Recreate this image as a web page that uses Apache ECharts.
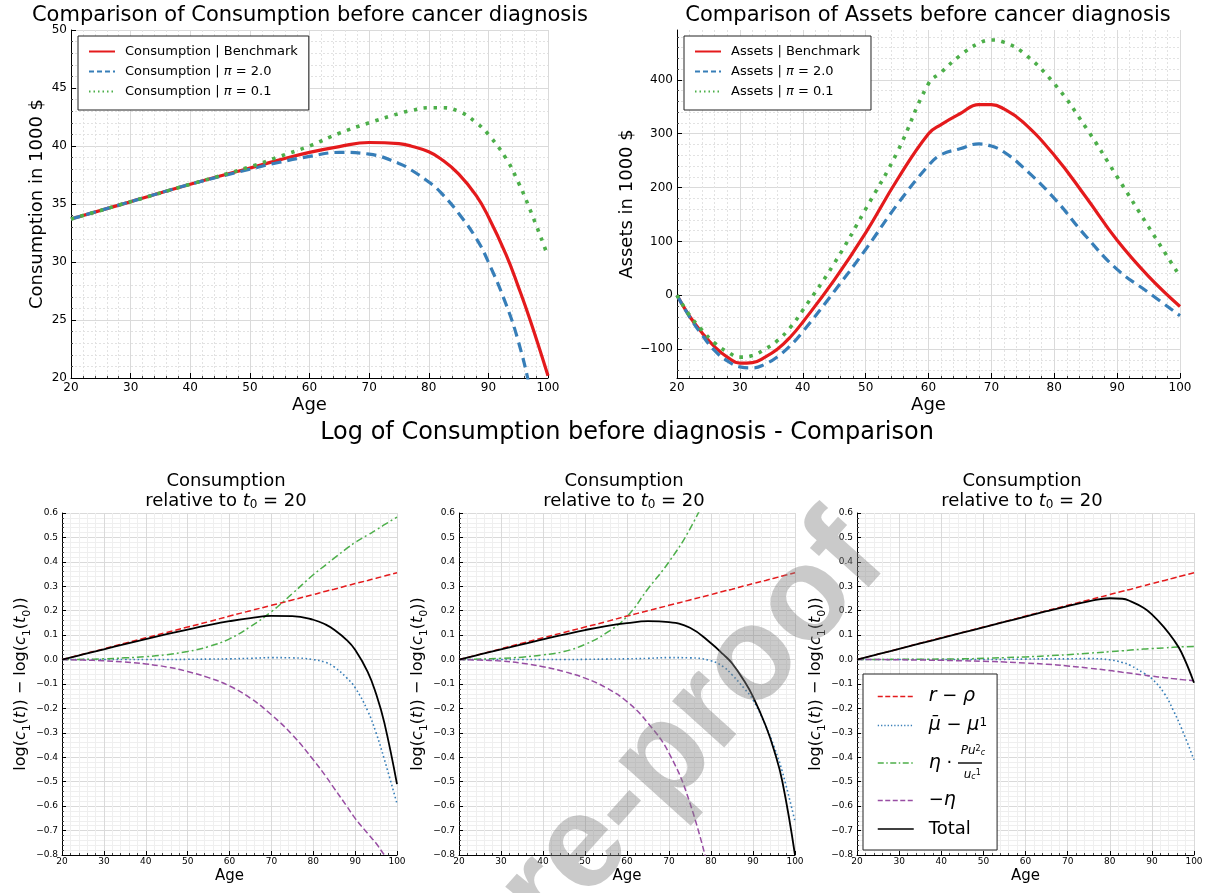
<!DOCTYPE html>
<html><head><meta charset="utf-8">
<script src="https://cdn.jsdelivr.net/npm/echarts@6/dist/echarts.min.js"></script>
<style>html,body{margin:0;padding:0;background:#fff}#c{width:1207px;height:893px}</style>
</head><body><div id="c"></div><script>
// ---------- DATA ----------
const AGES_C = [20,30,40,50,55,60,65,70,75,77,80,82,85,88,90,93,95,97,100];
const CONS_BENCH = [33.7,35.2,36.7,38.1,38.8,39.45,39.95,40.3,40.2,40.0,39.5,38.9,37.6,35.7,33.9,30.6,27.9,25.0,20.2];
const CONS_PI2   = [33.7,35.2,36.7,38.0,38.6,39.1,39.45,39.3,38.5,37.95,36.9,36.0,34.2,32.0,30.0,26.3,23.2,19.0,11.0];
const CONS_PI01  = [33.7,35.2,36.7,38.2,39.1,40.0,41.1,42.0,42.8,43.05,43.3,43.3,43.0,42.0,41.0,38.9,36.9,34.5,30.5];

const AGES_A = [20,22,24,26,28,30,32,34,36,38,40,45,50,55,60,62,65,68,70,72,75,80,85,90,95,100];
const ASSETS_BENCH = [0,-39,-70,-96,-115,-126,-125,-115,-100,-78,-50,28,116,214,300,317,337,354,354,346,322,260,183,102,35,-21];
const ASSETS_PI2   = [0,-40,-74,-103,-122,-133,-135,-128,-114,-94,-68,7,85,168,241,261,272,281,277,266,238,180,110,48,5,-38];
const ASSETS_PI01  = [0,-37,-65,-89,-105,-115,-112,-100,-84,-60,-28,59,160,265,393,414,445,468,474,470,451,393,312,220,127,35];

const AGES_L = [20,25,30,35,40,45,50,55,60,65,70,75,80,83,85,88,90,93,95,97,100];
const R_RHO = [0,0.022,0.044,0.067,0.089,0.111,0.133,0.155,0.178,0.2,0.222,0.244,0.266,0.28,0.288,0.302,0.311,0.324,0.333,0.342,0.355];
// left panel
const L1_MU  = [0,0,0,0,0,0,0.001,0.002,0.003,0.005,0.008,0.007,0.0,-0.012,-0.03,-0.075,-0.115,-0.21,-0.3,-0.41,-0.59];
const L1_ETA_P = [0,0.001,0.003,0.007,0.012,0.02,0.033,0.053,0.085,0.135,0.196,0.27,0.347,0.388,0.415,0.455,0.479,0.51,0.53,0.552,0.583];
const L1_ETA = [0,-0.002,-0.005,-0.01,-0.018,-0.03,-0.049,-0.074,-0.108,-0.158,-0.226,-0.308,-0.41,-0.478,-0.527,-0.6,-0.65,-0.712,-0.752,-0.8,-0.86];
const L1_TOT = [0,0.021,0.042,0.063,0.084,0.104,0.123,0.141,0.157,0.17,0.179,0.178,0.163,0.143,0.122,0.08,0.04,-0.05,-0.14,-0.26,-0.51];
// middle panel
const L2_MU  = [0,0,0,0,0,0,0.001,0.002,0.003,0.005,0.008,0.007,-0.005,-0.03,-0.062,-0.12,-0.165,-0.27,-0.356,-0.46,-0.663];
const L2_ETA_P = [0,0.002,0.005,0.01,0.019,0.033,0.062,0.108,0.176,0.29,0.4,0.535,0.71,null,null,null,null,null,null,null,null];
const L2_ETA = [0,-0.002,-0.006,-0.015,-0.029,-0.049,-0.076,-0.115,-0.172,-0.26,-0.383,-0.588,-0.9,null,null,null,null,null,null,null,null];
const L2_TOT = [0,0.021,0.042,0.062,0.083,0.102,0.121,0.137,0.149,0.157,0.153,0.13,0.067,0.02,-0.015,-0.09,-0.152,-0.27,-0.37,-0.5,-0.8];
// right panel
const L3_MU  = [0,0,0,0,0,0,0,0.001,0.002,0.003,0.003,0.004,-0.001,-0.012,-0.025,-0.055,-0.078,-0.14,-0.205,-0.28,-0.41];
const L3_ETA_P = [0,0,0.001,0.001,0.002,0.003,0.005,0.008,0.011,0.015,0.02,0.026,0.032,0.036,0.039,0.043,0.045,0.048,0.05,0.052,0.054];
const L3_ETA = [0,0,-0.001,-0.002,-0.003,-0.005,-0.007,-0.01,-0.014,-0.019,-0.026,-0.035,-0.045,-0.052,-0.056,-0.064,-0.068,-0.074,-0.078,-0.082,-0.087];
const L3_TOT = [0,0.022,0.044,0.066,0.088,0.11,0.132,0.154,0.176,0.198,0.219,0.238,0.251,0.249,0.238,0.212,0.185,0.13,0.085,0.03,-0.095];

const ASSET_TICKS = [-100,0,100,200,300,400];
const ASSET_MINOR = [-140,-120,-80,-60,-40,-20,20,40,60,80,120,140,160,180,220,240,260,280,320,340,360,380,420,440,460,480];

const NAMES_C = ['Consumption | Benchmark','Consumption | π = 2.0','Consumption | π = 0.1'];
const NAMES_A = ['Assets | Benchmark','Assets | π = 2.0','Assets | π = 0.1'];
const NAMES_L = ['r − ρ','μ̄ − μ¹','η · Pu²/u¹','−η','Total'];

// ---------- STYLE ----------
const FONT = 'DejaVu Sans';
const RED='#e41a1c', BLUE='#377eb8', GREEN='#4daf4a', PURPLE='#984ea3';
const CLEAR = 'rgba(0,0,0,0)';
const pairs = (xs, ys) => xs.map((x,i)=>[x, ys[i]]);

function xAxisFor(i, top){
  return {
    type:'value', gridIndex:i, min:20, max:100, interval:10,
    axisLine:{show:true,onZero:false,lineStyle:{color:'#000',width:1}},
    axisTick:{show:true,inside:true,length:top?5:4,lineStyle:{color:'#000'}},
    minorTick:{show:true,splitNumber:5,length:2,lineStyle:{color:'#444'}},
    splitLine:{show:true,lineStyle:{color:'#dadada',width:1}},
    minorSplitLine:{show:true,lineStyle: top?{color:'#e2e2e2',type:[2,2]}:{color:'#efefef'}},
    axisLabel:{color:'#000',fontSize:top?12:9,margin:top?4:2,fontFamily:FONT},
    name:'Age', nameLocation:'middle', nameGap:top?18:14,
    nameTextStyle:{fontSize:top?18:15,color:'#000',fontFamily:FONT}
  };
}
const yNameRich = {
  n:{fontSize:16,lineHeight:22,fontFamily:FONT,color:'#000'},
  i:{fontSize:16,lineHeight:22,fontStyle:'italic',fontFamily:FONT,color:'#000'},
  s:{fontSize:11,lineHeight:14,verticalAlign:'bottom',fontFamily:FONT,color:'#000'}
};
const fmtL = v => Math.abs(v)<1e-9 ? '0.0' : v.toFixed(1).replace('-','−');
function yAxisLog(i){
  return {
    type:'value', gridIndex:i, min:-0.8, max:0.6, interval:0.1,
    axisLine:{show:true,onZero:false,lineStyle:{color:'#000',width:1}},
    axisTick:{show:true,inside:true,length:4,lineStyle:{color:'#000'}},
    minorTick:{show:true,splitNumber:5,length:2,lineStyle:{color:'#444'}},
    splitLine:{show:true,lineStyle:{color:'#dadada'}},
    minorSplitLine:{show:true,lineStyle:{color:'#efefef'}},
    axisLabel:{color:'#000',fontSize:9,margin:4,formatter:fmtL,fontFamily:FONT},
    name:'{n|log(}{i|c}{s|1}{n|(}{i|t}{n|)) − log(}{i|c}{s|1}{n|(}{i|t}{s|0}{n|))}',
    nameLocation:'middle', nameGap:28, nameTextStyle:{rich:yNameRich}
  };
}
function logSeries(gi, mu, etaP, eta, tot){
  const base = {type:'line', xAxisIndex:gi, yAxisIndex:gi, symbol:'none', smooth:0.45, connectNulls:false, animation:false};
  return [
    Object.assign({}, base, {name:NAMES_L[0], data:pairs(AGES_L,R_RHO), lineStyle:{color:RED,width:1.5,type:[6,3]}, itemStyle:{color:RED}}),
    Object.assign({}, base, {name:NAMES_L[1], data:pairs(AGES_L,mu), lineStyle:{color:BLUE,width:1.6,type:[1.6,2.6]}, itemStyle:{color:BLUE}}),
    Object.assign({}, base, {name:NAMES_L[2], data:pairs(AGES_L,etaP), lineStyle:{color:GREEN,width:1.5,type:[7,3,2,3]}, itemStyle:{color:GREEN}}),
    Object.assign({}, base, {name:NAMES_L[3], data:pairs(AGES_L,eta), lineStyle:{color:PURPLE,width:1.5,type:[6,3]}, itemStyle:{color:PURPLE}}),
    Object.assign({}, base, {name:NAMES_L[4], data:pairs(AGES_L,tot), lineStyle:{color:'#000',width:1.8}, itemStyle:{color:'#000'}})
  ];
}
function topSeries(gi, names, xs, a, b, c){
  const base = {type:'line', xAxisIndex:gi, yAxisIndex:gi, symbol:'none', smooth:0.45, animation:false};
  return [
    Object.assign({}, base, {name:names[0], data:pairs(xs,a), lineStyle:{color:RED,width:3.2}, itemStyle:{color:RED}}),
    Object.assign({}, base, {name:names[1], data:pairs(xs,b), lineStyle:{color:BLUE,width:3.2,type:[10,6]}, itemStyle:{color:BLUE}}),
    Object.assign({}, base, {name:names[2], data:pairs(xs,c), lineStyle:{color:GREEN,width:3.6,type:[3.5,6.5]}, itemStyle:{color:GREEN}})
  ];
}
const hideSym = {color:CLEAR, borderColor:CLEAR, borderWidth:0, opacity:0};
const topLegRich = {
  g:{width:5},
  n:{fontSize:13,lineHeight:14,fontFamily:FONT,color:'#000'},
  i:{fontSize:13,lineHeight:14,fontStyle:'italic',fontFamily:FONT,color:'#000'}
};
const topLegFmt = name => '{g| }' + name.split('π').map(s=>'{n|'+s+'}').join('{i|π}');
function topLegend(left, names){
  return {
    left:left, top:36, orient:'vertical', itemWidth:26, itemHeight:14, itemGap:7,
    padding:[9,11,12,10], borderColor:'#222', borderWidth:1, backgroundColor:'#fff',
    selectedMode:false,
    data:[
      {name:names[0], itemStyle:hideSym, lineStyle:{width:2,type:'solid'}},
      {name:names[1], itemStyle:hideSym, lineStyle:{width:2,type:[5,3]}},
      {name:names[2], itemStyle:hideSym, lineStyle:{width:2,type:[1.5,3]}}
    ],
    formatter:topLegFmt, textStyle:{rich:topLegRich}
  };
}
const botLegRich = {
  g:{width:10},
  n:{fontSize:18,lineHeight:18,fontFamily:FONT,color:'#000'},
  m:{fontSize:19,lineHeight:18,fontStyle:'italic',fontFamily:FONT,color:'#000'},
  sup:{fontSize:12,lineHeight:10,verticalAlign:'top',fontFamily:FONT,color:'#000'},
  fsp:{width:32},
  fsp2:{width:35},
  fn:{fontSize:12,lineHeight:12,fontStyle:'italic',fontFamily:FONT,color:'#000'},
  fsup:{fontSize:8,lineHeight:8,verticalAlign:'top',fontFamily:FONT,color:'#000'},
  fsub:{fontSize:8,lineHeight:8,verticalAlign:'bottom',fontStyle:'italic',fontFamily:FONT,color:'#000'},
  m2:{fontSize:19,lineHeight:8,fontStyle:'italic',fontFamily:FONT,color:'#000'},
  n2:{fontSize:18,lineHeight:8,fontFamily:FONT,color:'#000'},
  bar:{width:24,height:1.4,lineHeight:8,fontSize:1,backgroundColor:'#000'}
};
const botLegText = {};
botLegText[NAMES_L[0]] = '{g| }{m|r}{n| − }{m|ρ}';
botLegText[NAMES_L[1]] = '{g| }{m|μ\u0304}{n| − }{m|μ}{sup|1}';
botLegText[NAMES_L[2]] = '{g| }{fsp| }{fn|Pu}{fsup|2}{fsub|c}\n{g| }{m2|η}{n2| · }{bar| }\n{g| }{fsp2| }{fn|u}{fsub|c}{fsup|1}';
botLegText[NAMES_L[3]] = '{g| }{n|−}{m|η}';
botLegText[NAMES_L[4]] = '{g| }{n|Total}';

const subTitleRich = {
  n:{fontSize:18,lineHeight:20,fontWeight:'normal',fontFamily:FONT,color:'#000'},
  i:{fontSize:18,lineHeight:20,fontWeight:'normal',fontStyle:'italic',fontFamily:FONT,color:'#000'},
  s:{fontSize:12,lineHeight:13,fontWeight:'normal',verticalAlign:'bottom',fontFamily:FONT,color:'#000'}
};
const subTitle = '{n|Consumption}\n{n|relative to }{i|t}{s|0}{n| = 20}';
const titleStyle = size => ({fontSize:size,fontWeight:'normal',color:'#000',fontFamily:FONT});

const chart = echarts.init(document.getElementById('c'), null, {renderer:'canvas'});
const option = {
  animation:false,
  backgroundColor:'#fff',
  textStyle:{fontFamily:FONT},
  title:[
    {text:'Comparison of Consumption before cancer diagnosis', left:310, top:5, textAlign:'center', padding:0, textStyle:titleStyle(21)},
    {text:'Comparison of Assets before cancer diagnosis', left:928, top:5, textAlign:'center', padding:0, textStyle:titleStyle(21)},
    {text:'Log of Consumption before diagnosis - Comparison', left:627, top:421, textAlign:'center', padding:0, textStyle:titleStyle(24)},
    {text:subTitle, left:226, top:471, textAlign:'center', padding:0, textStyle:{fontWeight:'normal', rich:subTitleRich}},
    {text:subTitle, left:624, top:471, textAlign:'center', padding:0, textStyle:{fontWeight:'normal', rich:subTitleRich}},
    {text:subTitle, left:1022, top:471, textAlign:'center', padding:0, textStyle:{fontWeight:'normal', rich:subTitleRich}}
  ],
  grid:[
    {left:71, top:30, width:477, height:348, containLabel:false, outerBoundsMode:'none'},
    {left:677, top:30, width:503, height:348, containLabel:false, outerBoundsMode:'none'},
    {left:62, top:513, width:335, height:342, containLabel:false, outerBoundsMode:'none'},
    {left:459, top:513, width:336, height:342, containLabel:false, outerBoundsMode:'none'},
    {left:857, top:513, width:337, height:342, containLabel:false, outerBoundsMode:'none'}
  ],
  legend:[
    topLegend(78, NAMES_C),
    topLegend(684, NAMES_A),
    {
      left:863, top:674, orient:'vertical', itemWidth:36, itemHeight:14, itemGap:10,
      padding:[13,10,12,14], borderColor:'#222', borderWidth:1, backgroundColor:'#fff',
      selectedMode:false,
      data:[
        {name:NAMES_L[0], itemStyle:hideSym, lineStyle:{width:1.3,type:[5,2.5]}},
        {name:NAMES_L[1], itemStyle:hideSym, lineStyle:{width:1.3,type:[1.3,2]}},
        {name:NAMES_L[2], itemStyle:hideSym, lineStyle:{width:1.3,type:[6,2.5,1.5,2.5]}},
        {name:NAMES_L[3], itemStyle:hideSym, lineStyle:{width:1.3,type:[5,2.5]}},
        {name:NAMES_L[4], itemStyle:hideSym, lineStyle:{width:1.5,type:'solid'}}
      ],
      formatter: n => botLegText[n],
      textStyle:{rich:botLegRich}
    }
  ],
  xAxis:[ xAxisFor(0,true), xAxisFor(1,true), xAxisFor(2,false), xAxisFor(3,false), xAxisFor(4,false) ],
  yAxis:[
    {
      type:'value', gridIndex:0, min:20, max:50, interval:5,
      axisLine:{show:true,onZero:false,lineStyle:{color:'#000'}},
      axisTick:{show:true,inside:true,length:5,lineStyle:{color:'#000'}},
      minorTick:{show:true,splitNumber:5,length:2,lineStyle:{color:'#444'}},
      splitLine:{show:true,lineStyle:{color:'#dadada'}},
      minorSplitLine:{show:true,lineStyle:{color:'#e2e2e2',type:[2,2]}},
      axisLabel:{color:'#000',fontSize:12,margin:4,fontFamily:FONT},
      name:'Consumption in 1000 $', nameLocation:'middle', nameGap:25,
      nameTextStyle:{fontSize:18,color:'#000',fontFamily:FONT}
    },
    {
      type:'value', gridIndex:1, min:-153.7, max:492.6, position:'left',
      axisLine:{show:true,onZero:false,lineStyle:{color:'#000'}},
      axisTick:{show:true,inside:true,length:5,lineStyle:{color:'#000'},customValues:ASSET_TICKS},
      splitLine:{show:true,lineStyle:{color:'#dadada'}},
      axisLabel:{color:'#000',fontSize:12,margin:4,fontFamily:FONT,customValues:ASSET_TICKS,
        formatter:v=>String(Math.round(v)).replace('-','−')},
      name:'Assets in 1000 $', nameLocation:'middle', nameGap:38,
      nameTextStyle:{fontSize:18,color:'#000',fontFamily:FONT}
    },
    yAxisLog(2), yAxisLog(3), yAxisLog(4),
    {
      type:'value', gridIndex:1, min:-153.7, max:492.6, position:'left', offset:0,
      axisLine:{show:false}, axisLabel:{show:false},
      axisTick:{show:true,inside:true,length:2,lineStyle:{color:'#444'},customValues:ASSET_MINOR},
      splitLine:{show:true,lineStyle:{color:'#e2e2e2',type:[2,2]}}
    }
  ],
  series:[].concat(
    topSeries(0, NAMES_C, AGES_C, CONS_BENCH, CONS_PI2, CONS_PI01),
    topSeries(1, NAMES_A, AGES_A, ASSETS_BENCH, ASSETS_PI2, ASSETS_PI01),
    logSeries(2, L1_MU, L1_ETA_P, L1_ETA, L1_TOT),
    logSeries(3, L2_MU, L2_ETA_P, L2_ETA, L2_TOT),
    logSeries(4, L3_MU, L3_ETA_P, L3_ETA, L3_TOT)
  ),
  graphic:[{
    type:'text', x:664, y:760, rotation:48*Math.PI/180, z:100, silent:true,
    style:{text:'Pre-proof', font:'bold 132px "Liberation Sans"', fill:'rgba(128,128,128,0.42)', align:'center', verticalAlign:'middle'}
  }]
};
chart.setOption(option);
</script></body></html>
